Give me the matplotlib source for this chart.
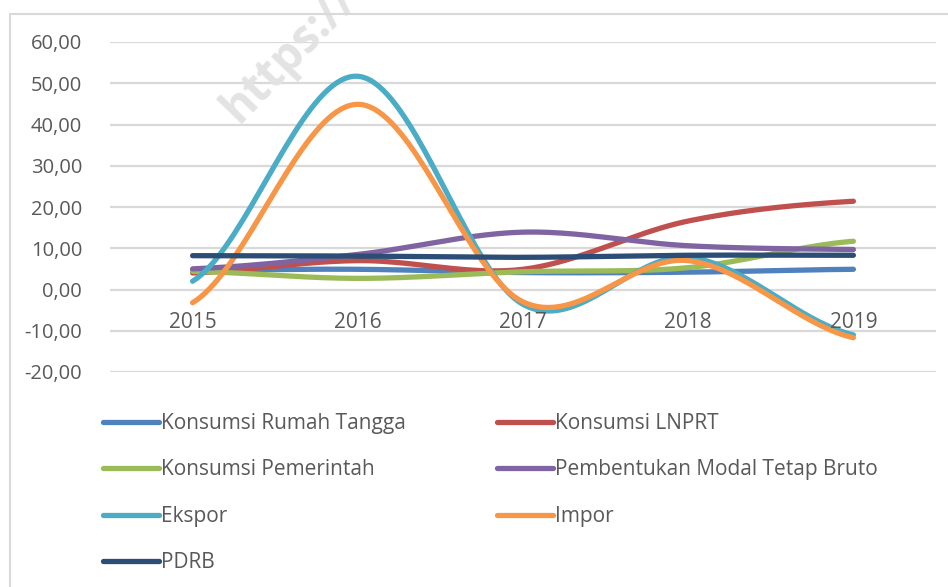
"""Growth by expenditure component, 2015-2019 (Excel-style smoothed lines)."""

import numpy as np
import matplotlib.pyplot as plt
from matplotlib.lines import Line2D
from matplotlib.patches import Rectangle

years = ["2015", "2016", "2017", "2018", "2019"]

rumah_tangga = [4.7, 4.9, 4.1, 4.2, 4.9]
lnprt = [4.0, 7.0, 4.9, 16.6, 21.4]
pemerintah = [4.4, 2.7, 4.3, 5.3, 11.7]
pmtb = [5.0, 8.5, 13.9, 10.6, 9.7]
ekspor = [2.0, 51.7, -3.6, 7.8, -11.0]
impor = [-3.2, 44.9, -3.0, 7.0, -11.7]
pdrb = [8.2, 8.1, 7.8, 8.3, 8.3]

series_names = [
    "Konsumsi Rumah Tangga",
    "Konsumsi LNPRT",
    "Konsumsi Pemerintah",
    "Pembentukan Modal Tetap Bruto",
    "Ekspor",
    "Impor",
    "PDRB",
]
series_values = [rumah_tangga, lnprt, pemerintah, pmtb, ekspor, impor, pdrb]
colors = ["#4F81BD", "#C0504D", "#9BBB59", "#8064A2", "#4BACC6", "#F79646", "#2C4D75"]

y_ticks = [-20, -10, 0, 10, 20, 30, 40, 50, 60]

TEXT = "#595959"
GRID = "#D9D9D9"
FONT = "Open Sans"


def smooth(xs, ys, steps=40):
    # Catmull-Rom through the points, roughly what Excel's "smoothed line" does
    xs = np.asarray(xs, dtype=float)
    ys = np.asarray(ys, dtype=float)
    px = np.concatenate([[xs[0]], xs, [xs[-1]]])
    py = np.concatenate([[ys[0]], ys, [ys[-1]]])
    out_x, out_y = [], []
    t = np.linspace(0, 1, steps)
    for i in range(1, len(px) - 2):
        p0, p1, p2, p3 = py[i - 1], py[i], py[i + 1], py[i + 2]
        c1 = p1 + (p2 - p0) / 6
        c2 = p2 - (p3 - p1) / 6
        y = (1 - t) ** 3 * p1 + 3 * (1 - t) ** 2 * t * c1 + 3 * (1 - t) * t ** 2 * c2 + t ** 3 * p2
        x = px[i] + (px[i + 1] - px[i]) * t
        out_x.extend(x)
        out_y.extend(y)
    return np.array(out_x), np.array(out_y)


def fmt(v):
    return f"{v:.2f}".replace(".", ",")


fig = plt.figure(figsize=(9.48, 5.87), dpi=100)
W, H = 948, 587

# chart frame (only top and left edges fall inside the picture)
fig.add_artist(Rectangle((10 / W, -0.1), 1.1, 1 - 13.5 / H + 0.1, transform=fig.transFigure,
                         fill=False, edgecolor=GRID, linewidth=1.5))

ax = fig.add_axes([110 / W, 1 - 372 / H, (936 - 110) / W, (372 - 42) / H])
ax.set_xlim(-0.5, len(years) - 0.5)
ax.set_ylim(-20, 60)
for s in ax.spines.values():
    s.set_visible(False)
ax.set_yticks(y_ticks)
ax.set_yticklabels([fmt(v) for v in y_ticks], fontsize=14.5, color=TEXT, family=FONT)
ax.yaxis.grid(True, color=GRID, linewidth=1.6)
ax.set_axisbelow(True)
ax.tick_params(axis="both", length=0)
ax.tick_params(axis="y", pad=20)
ax.set_xticks([])

xs = np.arange(len(years))
handles = []
for name, vals, c in zip(series_names, series_values, colors):
    sx, sy = smooth(xs, vals)
    ax.plot(sx, sy, color=c, linewidth=3.8, solid_capstyle="round", solid_joinstyle="round")
    handles.append(Line2D([0], [0], color=c, linewidth=3.8, solid_capstyle="round"))

# category labels sit just under the zero line, like Excel's axis position
for x, lab in zip(xs, years):
    ax.text(x, -7.9, lab, ha="center", va="center", fontsize=15, color=TEXT, family=FONT)

# watermark, mostly running off the top edge
fig.text(238 / W, 1 - 124 / H, "https://t", rotation=46, rotation_mode="anchor",
         ha="left", va="baseline", fontsize=33, fontweight="bold", color="#E3E3E3",
         family=FONT, zorder=0, clip_on=True)

order = [0, 2, 4, 6, 1, 3, 5]
fig.legend([handles[i] for i in order], [series_names[i] for i in order],
           loc="upper left", bbox_to_anchor=(103 / W, 1 - 413 / H), ncol=2,
           frameon=False, borderpad=0, borderaxespad=0, handlelength=2.7,
           handletextpad=0.1, columnspacing=4.35, labelspacing=1.22,
           prop={"family": FONT, "size": 15}, labelcolor=TEXT)

fig.savefig("out.png", dpi=100)
